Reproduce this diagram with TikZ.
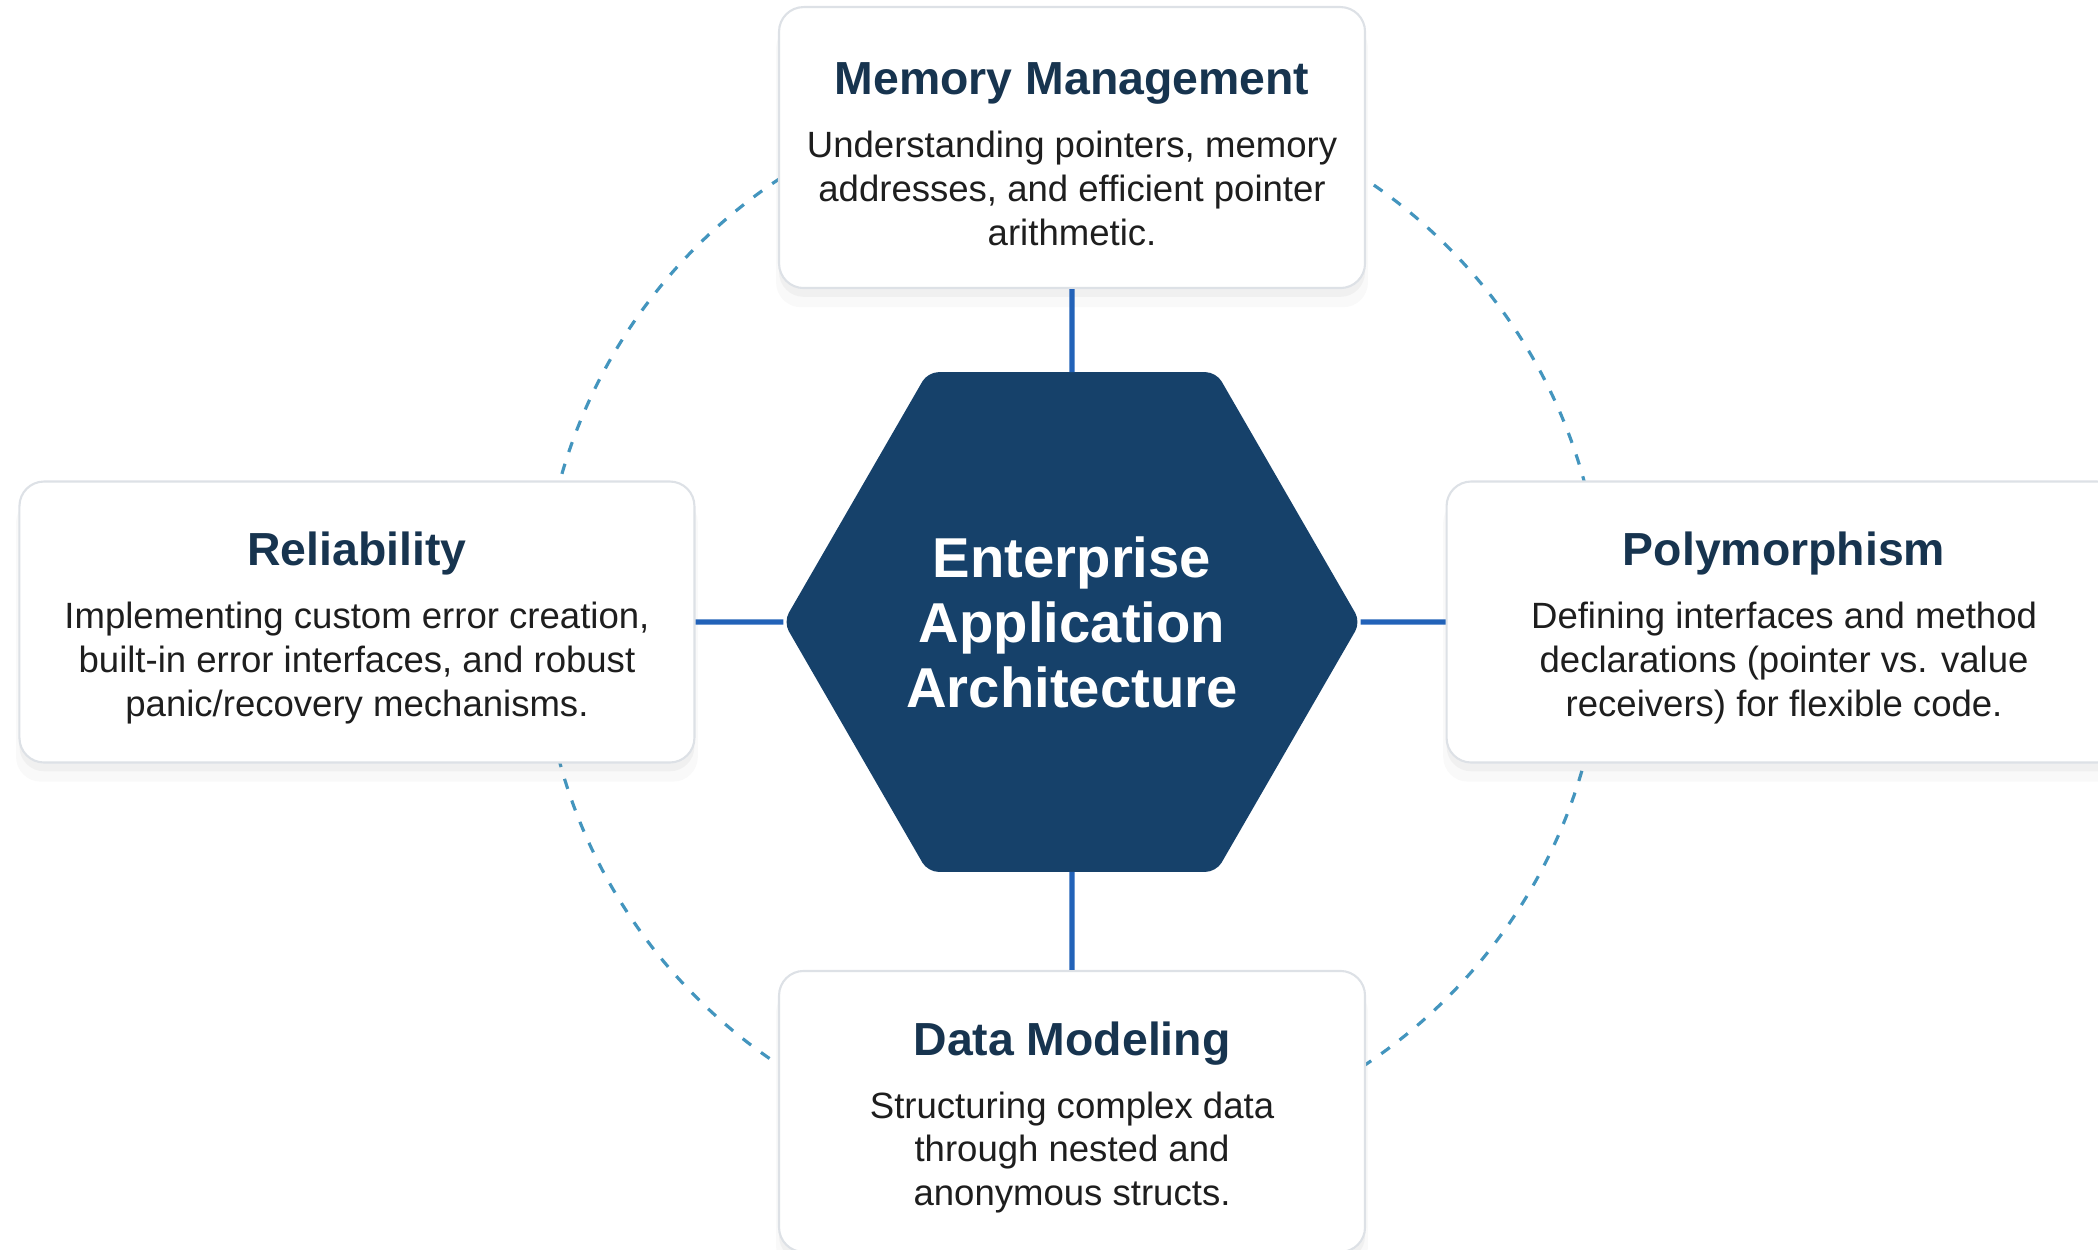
\documentclass[tikz,border=0pt]{standalone}
\usepackage{fontspec}
\setmainfont{Liberation Sans}
\usetikzlibrary{positioning,shapes.geometric,shadows}
\definecolor{navy}{HTML}{16416A}
\definecolor{titleblue}{HTML}{17344F}
\definecolor{linkblue}{HTML}{2262B8}
\definecolor{ringblue}{HTML}{4395BE}
\definecolor{boxline}{HTML}{DDE1E6}
\definecolor{bodytext}{HTML}{1E1E1E}
\tikzset{
  topic/.style={rectangle, rounded corners=7pt, draw=boxline, line width=0.6pt,
    fill=white, minimum height=2.81cm, align=center, text=bodytext,
    font=\fontsize{10.4}{12.5}\selectfont,
    drop shadow={shadow xshift=0pt, shadow yshift=-5pt, shadow scale=1.01, opacity=0.05},
    drop shadow={shadow xshift=0pt, shadow yshift=-2.5pt, opacity=0.07}},
  hexa/.style={regular polygon, regular polygon sides=6, minimum size=5.77cm,
    inner sep=0pt, outer sep=0pt, fill=navy, rounded corners=3pt, text=white,
    align=center, font=\fontsize{16}{18.5}\selectfont\bfseries},
  link/.style={linkblue, line width=1.5pt},
  ring/.style={ringblue, line width=0.9pt, dash pattern=on 3pt off 3.5pt},
}
\newcommand{\topichead}[1]{{\fontsize{13.2}{16}\selectfont\bfseries\color{titleblue}\rule{0pt}{13pt}#1}\\[5.4pt]}

\begin{document}
\begin{tikzpicture}
    \useasboundingbox (0,0) rectangle (20.98,-12.49);

    \node [hexa] (core) at (10.72,-6.22) {Enterprise\\Application\\Architecture};

    % dashed ring behind the boxes
    \draw [ring] (core.center) circle (5.31cm);

    \node [topic, minimum width=5.86cm] (mem) [above=0.83cm of core]
    {
        \topichead{Memory Management}
        Understanding pointers, memory\\
        addresses, and efficient pointer\\
        arithmetic.
    };

    \node [topic, minimum width=6.75cm] (rel) [left=0.88cm of core]
    {
        \topichead{Reliability}
        Implementing custom error creation,\\
        built-in error interfaces, and robust\\
        panic/recovery mechanisms.
    };

    \node [topic, minimum width=6.75cm] (poly) [right=0.85cm of core]
    {
        \topichead{Polymorphism}
        Defining interfaces and method\\
        declarations (pointer vs. value\\
        receivers) for flexible code.
    };

    \node [topic, minimum width=5.86cm] (data) [below=0.98cm of core]
    {
        \topichead{Data Modeling}
        Structuring complex data\\
        through nested and\\
        anonymous structs.
    };

    \draw [link] (mem) -- (core);
    \draw [link] (rel) -- (core);
    \draw [link] (poly) -- (core);
    \draw [link] (data) -- (core);

\end{tikzpicture}
\end{document}
